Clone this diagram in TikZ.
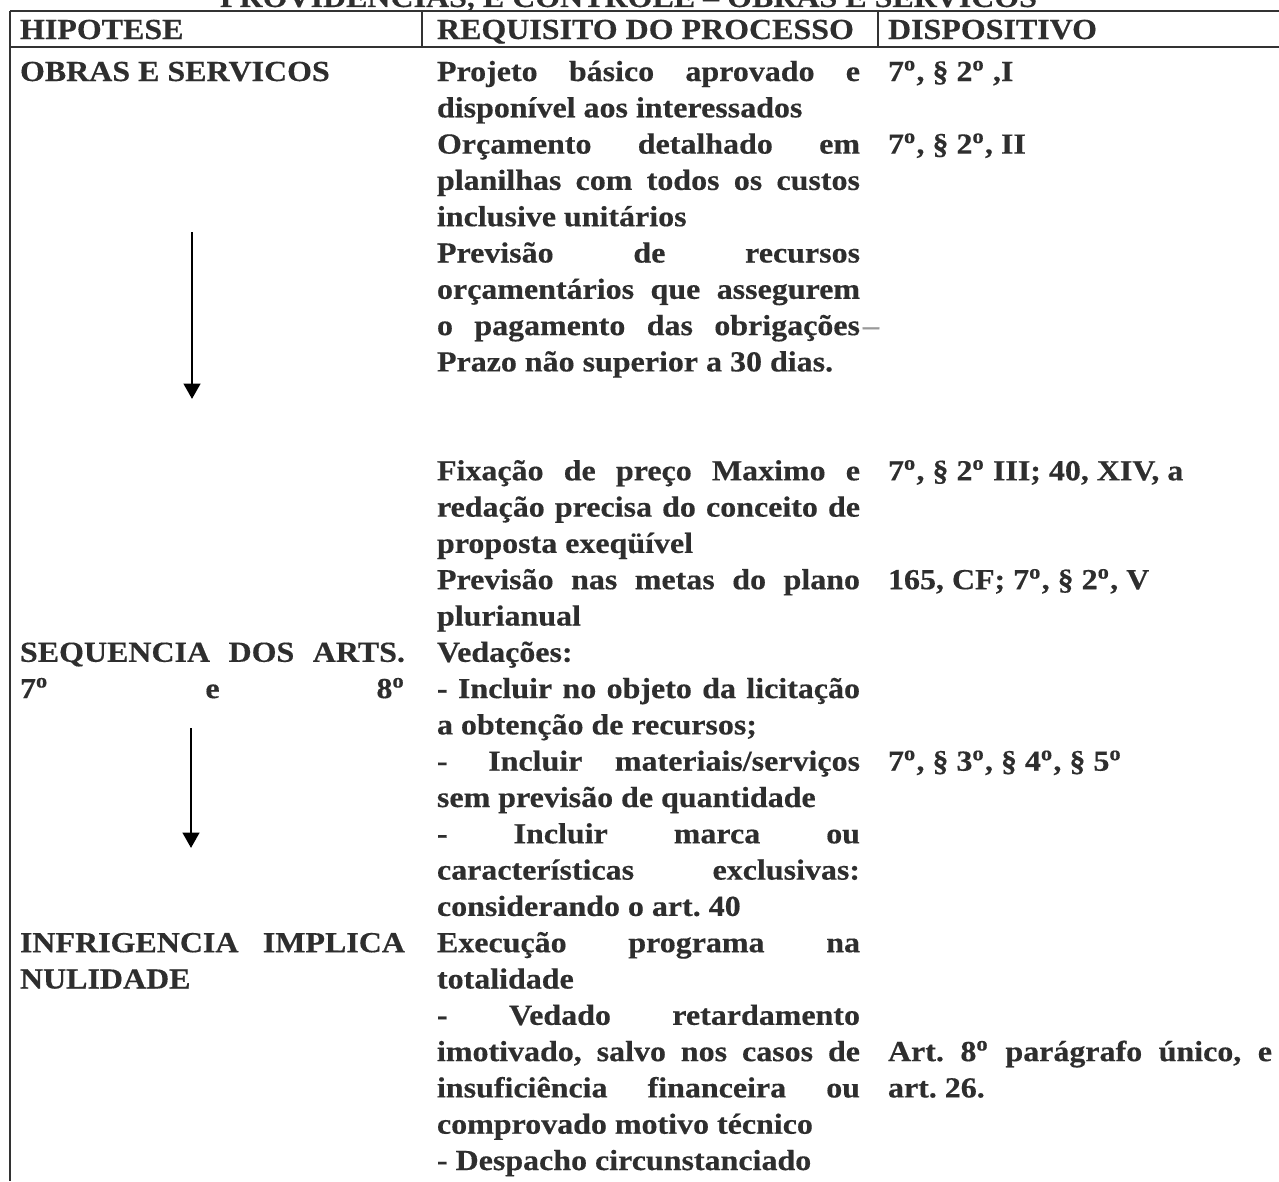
\documentclass[tikz,border=0pt]{standalone}
\usepackage{fontspec}
\setmainfont{Liberation Serif}[FakeStretch=1.1, BoldFeatures={FakeBold=0.4}]
\usetikzlibrary{arrows.meta}
\frenchspacing
\newdimen\pxu \pxu=0.375pt
\newcommand\J[2]{\makebox[#1\pxu][s]{#2}}
\newcommand\Y[1]{81+36.3*#1}
\newcommand\ord{\textsuperscript{o}}
\tikzset{
  txt/.style={anchor=base west, inner sep=0pt, outer sep=0pt,
    font=\fontsize{10.9pt}{13.6pt}\selectfont\bfseries, text=black!82},
  rule/.style={line width=0.75pt, draw=black!80},
  arr/.style={line width=1.1pt, -{Triangle[length=5.8pt,width=6.2pt]}}
}
\begin{document}
\begin{tikzpicture}[x=0.375pt, y=-0.375pt]
\useasboundingbox (0,0) rectangle (1279,1181);
\clip (0,0) rectangle (1279,1181);
\fill[white] (0,0) rectangle (1279,1181);
% title (cut off at the top, as in the reference)
\node[txt] (title) at (220,7) {PROVIDENCIAS, E CONTROLE -- OBRAS E SERVICOS};
% table rules
\draw[rule] (10,11) -- (1279,11);
\draw[rule] (10,47) -- (1279,47);
\draw[rule] (10,11) -- (10,1181);
\draw[rule] (422,11) -- (422,47);
\draw[rule] (878,11) -- (878,47);
% header
\node[txt] (h1) at (20,39) {HIPOTESE};
\node[txt] (h2) at (437,39) {REQUISITO DO PROCESSO};
\node[txt] (h3) at (888,39) {DISPOSITIVO};
% column 1
\node[txt] (a0) at (20,{\Y{0}}) {OBRAS E SERVICOS};
\node[txt] (a16) at (20,{\Y{16}}) {\J{385}{SEQUENCIA DOS ARTS.}};
\node[txt] (a17) at (20,{\Y{17}}) {\J{385}{7\ord{} e 8\ord}};
\node[txt] (a24) at (20,{\Y{24}}) {\J{385}{INFRIGENCIA IMPLICA}};
\node[txt] (a25) at (20,{\Y{25}}) {NULIDADE};
% column 2
\node[txt] (b0) at (437,{\Y{0}}) {\J{423}{Projeto básico aprovado e}};
\node[txt] (b1) at (437,{\Y{1}}) {disponível aos interessados};
\node[txt] (b2) at (437,{\Y{2}}) {\J{423}{Orçamento detalhado em}};
\node[txt] (b3) at (437,{\Y{3}}) {\J{423}{planilhas com todos os custos}};
\node[txt] (b4) at (437,{\Y{4}}) {inclusive unitários};
\node[txt] (b5) at (437,{\Y{5}}) {\J{423}{Previsão de recursos}};
\node[txt] (b6) at (437,{\Y{6}}) {\J{423}{orçamentários que assegurem}};
\node[txt] (b7) at (437,{\Y{7}}) {\J{423}{o pagamento das obrigações}};
\node[txt, text=black!40] (b7d) at (863,{\Y{7}}) {--};
\node[txt] (b8) at (437,{\Y{8}}) {Prazo não superior a 30 dias.};
\node[txt] (b11) at (437,{\Y{11}}) {\J{423}{Fixação de preço Maximo e}};
\node[txt] (b12) at (437,{\Y{12}}) {\J{423}{redação precisa do conceito de}};
\node[txt] (b13) at (437,{\Y{13}}) {proposta exeqüível};
\node[txt] (b14) at (437,{\Y{14}}) {\J{423}{Previsão nas metas do plano}};
\node[txt] (b15) at (437,{\Y{15}}) {plurianual};
\node[txt] (b16) at (437,{\Y{16}}) {Vedações:};
\node[txt] (b17) at (437,{\Y{17}}) {\J{423}{- Incluir no objeto da licitação}};
\node[txt] (b18) at (437,{\Y{18}}) {a obtenção de recursos;};
\node[txt] (b19) at (437,{\Y{19}}) {\J{423}{-\hspace{8\pxu} Incluir materiais/serviços}};
\node[txt] (b20) at (437,{\Y{20}}) {sem previsão de quantidade};
\node[txt] (b21) at (437,{\Y{21}}) {\J{423}{- Incluir marca ou}};
\node[txt] (b22) at (437,{\Y{22}}) {\J{423}{características exclusivas:}};
\node[txt] (b23) at (437,{\Y{23}}) {considerando o art. 40};
\node[txt] (b24) at (437,{\Y{24}}) {\J{423}{Execução programa na}};
\node[txt] (b25) at (437,{\Y{25}}) {totalidade};
\node[txt] (b26) at (437,{\Y{26}}) {\J{423}{- Vedado retardamento}};
\node[txt] (b27) at (437,{\Y{27}}) {\J{423}{imotivado, salvo nos casos de}};
\node[txt] (b28) at (437,{\Y{28}}) {\J{423}{insuficiência financeira ou}};
\node[txt] (b29) at (437,{\Y{29}}) {comprovado motivo técnico};
\node[txt] (b30) at (437,{\Y{30}}) {- Despacho circunstanciado};
% column 3
\node[txt] (c0) at (888,{\Y{0}}) {7\ord, § 2\ord{} ,I};
\node[txt] (c2) at (888,{\Y{2}}) {7\ord, § 2\ord, II};
\node[txt] (c11) at (888,{\Y{11}}) {7\ord, § 2\ord{} III; 40, XIV, a};
\node[txt] (c14) at (888,{\Y{14}}) {165, CF; 7\ord, § 2\ord, V};
\node[txt] (c19) at (888,{\Y{19}}) {7\ord, § 3\ord, § 4\ord, § 5\ord};
\node[txt] (c27) at (888,{\Y{27}}) {\J{384}{Art. 8\ord{} parágrafo único, e}};
\node[txt] (c28) at (888,{\Y{28}}) {art. 26.};
% arrows
\coordinate (p1s) at (192,232);
\coordinate (p1e) at (192,399);
\coordinate (p2s) at (191,728);
\coordinate (p2e) at (191,848);
\draw[arr] (p1s) -- (p1e);
\draw[arr] (p2s) -- (p2e);
\end{tikzpicture}
\end{document}
